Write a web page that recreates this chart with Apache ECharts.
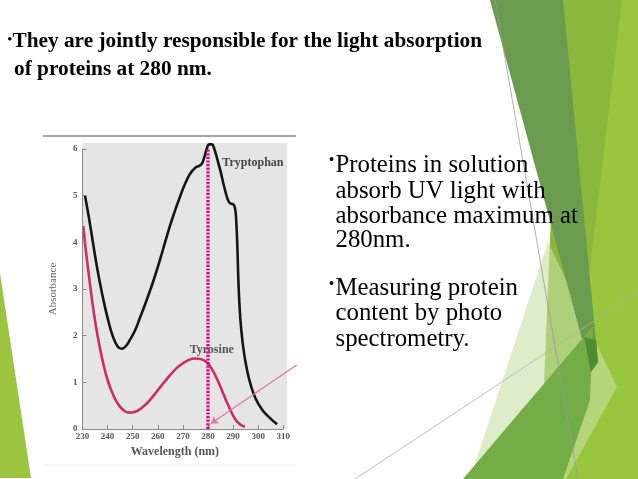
<!DOCTYPE html>
<html>
<head>
<meta charset="utf-8">
<script src="https://cdn.jsdelivr.net/npm/echarts@6/dist/echarts.min.js"></script>
<style>
html,body{margin:0;padding:0;background:#fff;}
#c{width:638px;height:479px;}
</style>
</head>
<body>
<div id="c"></div>
<script>
// ---- data ----
const xTicks = [230, 240, 250, 260, 270, 280, 290, 300, 310];
const yTicks = [0, 1, 2, 3, 4, 5, 6];
const tryptophanX = [231, 232.5, 234, 236, 238, 240, 242, 244, 245.5, 247, 249, 251, 253, 255, 257, 259, 261, 263, 265, 267, 269, 271, 273, 275, 276.5, 277.5, 278.5, 279.5, 280.5, 281.5, 282.5, 283.5, 285, 286.5, 288, 289, 290, 290.8, 291.3, 291.7, 292.1, 292.6, 293.3, 294.3, 295.5, 297, 299, 301.5, 304, 307.5];
const tryptophanY = [5.0, 4.55, 4.05, 3.4, 2.85, 2.38, 2.0, 1.77, 1.72, 1.76, 1.92, 2.12, 2.4, 2.68, 2.98, 3.3, 3.65, 4.02, 4.38, 4.7, 5.0, 5.27, 5.48, 5.6, 5.64, 5.68, 5.82, 6.0, 6.1, 6.1, 6.0, 5.82, 5.52, 5.18, 4.9, 4.83, 4.82, 4.72, 4.4, 3.9, 3.2, 2.6, 2.1, 1.65, 1.28, 0.95, 0.65, 0.42, 0.27, 0.1];
const tyrosineX = [230.3, 231.5, 233, 234.5, 236, 238, 240, 242, 244, 246, 248.5, 251, 254, 257, 260, 263, 266, 269, 272, 275, 277, 279, 281, 283, 285, 287, 289, 291, 293, 294.7];
const tyrosineY = [4.35, 3.75, 3.1, 2.5, 2.0, 1.47, 1.05, 0.76, 0.55, 0.42, 0.35, 0.37, 0.47, 0.63, 0.83, 1.03, 1.22, 1.37, 1.47, 1.51, 1.5, 1.45, 1.33, 1.14, 0.9, 0.64, 0.4, 0.2, 0.09, 0.05];
const markerX = [280, 280];
const markerY = [0, 6];
const arrowFrom = [315.3, 1.37];
const arrowTo = [281.2, 0.12];
const seriesNames = ['Tryptophan', 'Tyrosine'];
const labelPos = [[297.9, 5.70], [281.5, 1.69]];
const headingLines = ['They are jointly responsible for the light absorption', 'of proteins at 280 nm.'];
const para1 = ['Proteins in solution', 'absorb UV light with', 'absorbance maximum at', '280nm.'];
const para2 = ['Measuring protein', 'content by photo', 'spectrometry.'];

const zip = (a, b) => a.map((v, i) => [v, b[i]]);

const chart = echarts.init(document.getElementById('c'), null, {renderer: 'canvas'});

const serif = 'Liberation Serif, Times New Roman, serif';
const graphics = [];
// slide decoration (background facets)
function poly(points, fill, z) { graphics.push({type: 'polygon', shape: {points}, style: {fill}, z: z, silent: true}); }
poly([[560,0],[638,0],[638,479],[540,479]], '#8ab83d', -20);
poly([[622,0],[638,0],[638,479],[565,479]], '#99c63c', -19);
poly([[548,242],[617,387],[566,479],[470,479]], 'rgba(200,224,165,0.6)', -18);
poly([[490,0],[563,0],[598,362],[591,372]], '#6b9b4e', -17);
poly([[463,479],[593,326],[590,400],[563,479]], '#72ad45', -16);
poly([[584,337],[596,340],[598,362],[591,372]], '#4f8b32', -15);
poly([[0,273],[31,478],[0,478]], '#9bc53e', -15);
graphics.push({type: 'line', shape: {x1: 495, y1: 0, x2: 578, y2: 479}, style: {stroke: '#9a9a9a', lineWidth: 0.8}, z: -14, silent: true});
graphics.push({type: 'line', shape: {x1: 355, y1: 479, x2: 638, y2: 292}, style: {stroke: '#b0b0b0', lineWidth: 0.8}, z: -14, silent: true});
// chart picture frame
graphics.push({type: 'rect', shape: {x: 82.5, y: 143, width: 204.5, height: 286}, style: {fill: '#e5e5e5'}, z: -5, silent: true});
graphics.push({type: 'line', shape: {x1: 43, y1: 136, x2: 296, y2: 136}, style: {stroke: '#858585', lineWidth: 1.5}, z: -5, silent: true});
graphics.push({type: 'line', shape: {x1: 43, y1: 465, x2: 296, y2: 465}, style: {stroke: '#f3f0e4', lineWidth: 1}, z: -5, silent: true});

function txt(s, x, y, size, weight, align) {
  graphics.push({type: 'text', x: x, y: y, z: 20, silent: true,
    style: {text: s, font: (weight || 'normal') + ' ' + size + 'px ' + serif, fill: '#000', align: align || 'left', verticalAlign: 'middle'}});
}
// heading
txt('\u2022', 9.8, 40, 13, 'bold', 'center');
txt(headingLines[0], 12.5, 41.7, 21.3, 'bold');
txt(headingLines[1], 14, 69.7, 21.3, 'bold');
// right paragraphs
txt('\u2022', 331.5, 161, 16, 'normal', 'center');
const p1y = [165.5, 191, 216, 240.5];
para1.forEach((s, i) => txt(s, 335.5, p1y[i], 24.8));
txt('\u2022', 331.5, 284.5, 16, 'normal', 'center');
const p2y = [288.5, 313.5, 339];
para2.forEach((s, i) => txt(s, 335.5, p2y[i], 24.8));

const axisCommon = {
  axisLine: {show: true, lineStyle: {color: '#8a8a8a', width: 1}},
  axisTick: {show: true, inside: true, length: 4, lineStyle: {color: '#8a8a8a'}},
  splitLine: {show: false},
  axisLabel: {color: '#555', fontSize: 9, fontWeight: 'bold', fontFamily: serif}
};

const option = {
  animation: false,
  backgroundColor: '#fff',
  grid: {left: 82.5, right: 354.7, top: 149, bottom: 50, containLabel: false},
  xAxis: Object.assign({}, axisCommon, {
    type: 'value', min: xTicks[0], max: xTicks[xTicks.length - 1], interval: 10, z: 5,
    axisLabel: Object.assign({}, axisCommon.axisLabel, {margin: 3}),
    name: 'Wavelength (nm)', nameLocation: 'middle', nameGap: 17,
    nameTextStyle: {color: '#555', fontSize: 12, fontWeight: 'bold', fontFamily: serif, padding: [0, 16, 0, 0]}
  }),
  yAxis: Object.assign({}, axisCommon, {
    type: 'value', min: yTicks[0], max: yTicks[yTicks.length - 1], interval: 1, z: 5,
    axisLabel: Object.assign({}, axisCommon.axisLabel, {margin: 5}),
    name: 'Absorbance', nameLocation: 'middle', nameGap: 24, nameRotate: 90,
    nameTextStyle: {color: '#666', fontSize: 11, fontFamily: serif}
  }),
  graphic: {elements: graphics},
  series: [
    {
      name: seriesNames[0], type: 'line', data: zip(tryptophanX, tryptophanY), clip: false,
      showSymbol: false, symbol: 'none', smooth: 0.5, z: 3,
      lineStyle: {color: '#151515', width: 2.6},
      markPoint: {symbol: 'rect', symbolSize: 1, itemStyle: {color: 'rgba(0,0,0,0)'}, silent: true,
        label: {show: true, position: 'inside', formatter: '{b}', color: '#454545', fontSize: 12, fontWeight: 'bold', fontFamily: serif},
        data: [{name: seriesNames[0], coord: labelPos[0]}]}
    },
    {
      name: seriesNames[1], type: 'line', data: zip(tyrosineX, tyrosineY),
      showSymbol: false, symbol: 'none', smooth: 0.5, z: 3,
      lineStyle: {color: '#cc2d66', width: 2.6},
      markPoint: {symbol: 'rect', symbolSize: 1, itemStyle: {color: 'rgba(0,0,0,0)'}, silent: true,
        label: {show: true, position: 'inside', formatter: '{b}', color: '#555', fontSize: 12, fontWeight: 'bold', fontFamily: serif},
        data: [{name: seriesNames[1], coord: labelPos[1]}]}
    },
    {
      name: '280 nm', type: 'line', data: zip(markerX, markerY), clip: false,
      showSymbol: false, symbol: 'none', z: 10,
      lineStyle: {color: '#e4087e', width: 3.4, type: [2.2, 1.4]}
    },
    {
      name: 'arrow', type: 'lines', coordinateSystem: 'cartesian2d', clip: false, z: 11,
      symbol: ['none', 'arrow'], symbolSize: 7, silent: true,
      lineStyle: {color: '#e2739c', width: 1.2, opacity: 1, curveness: 0},
      data: [{coords: [arrowFrom, arrowTo]}]
    }
  ]
};
chart.setOption(option);
</script>
</body>
</html>
